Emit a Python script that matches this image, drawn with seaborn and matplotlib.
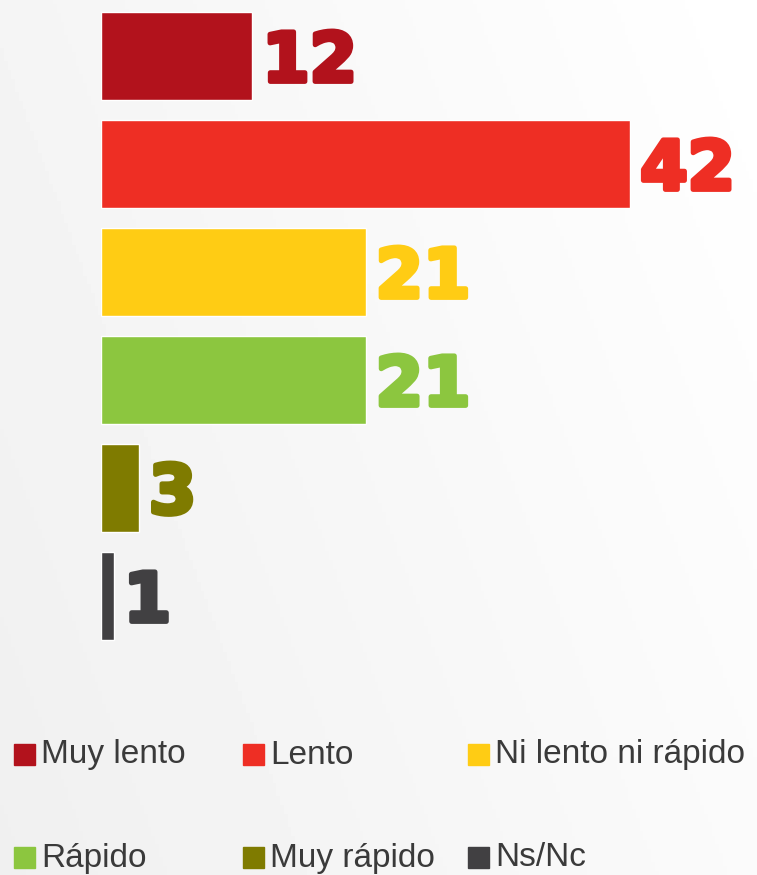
import numpy as np
import matplotlib
matplotlib.use("Agg")
import matplotlib.pyplot as plt
import matplotlib.patheffects as pe
from matplotlib.patches import Rectangle
import seaborn as sns

# --- Data ---
categories = ["Muy lento", "Lento", "Ni lento ni rápido", "Rápido", "Muy rápido", "Ns/Nc"]
values = [12, 42, 21, 21, 3, 1]
colors = ["#b2121c", "#ee2e24", "#ffcc14", "#8cc63f", "#7f7b00", "#414042"]

sns.set_style("white")
plt.rcParams["font.family"] = ["Liberation Sans", "DejaVu Sans"]

W, H = 757, 875
fig = plt.figure(figsize=(W / 100, H / 100), dpi=100)

# soft grey gradient background
bg = fig.add_axes([0, 0, 1, 1], zorder=-10)
gx, gy = np.meshgrid(np.linspace(0, 1, 200), np.linspace(0, 1, 200))
grad = 0.94 + 0.06 * np.clip(0.7 * gx + 0.3 * (1 - gy), 0, 1)
bg.imshow(grad, cmap="gray", vmin=0, vmax=1, aspect="auto", extent=[0, 1, 0, 1])
bg.axis("off")

# bar axes: 0 at x=101px, 12.6 px per unit, 108 px per row
left = 101 / W
ax = fig.add_axes([left, (H - 650) / H, 50 * 12.6 / W, 648 / H])
ax.set_facecolor("none")
sns.barplot(x=values, y=categories, hue=categories, palette=colors, orient="h",
            width=0.815, legend=False, saturation=1, ax=ax)
ax.set_xlim(0, 50)
ax.set_ylim(5.5, -0.5)
ax.axis("off")

for i, (v, c) in enumerate(zip(values, colors)):
    ax.text(v + 0.8, i + 0.06, str(v), color=c, fontsize=49, fontweight="bold",
            va="center", ha="left", family="DejaVu Sans",
            path_effects=[pe.withStroke(linewidth=3.5, foreground=c)])

# legend, two rows of three
leg_x = [14, 243, 468]
leg_y = [755, 858]
for k, (name, c) in enumerate(zip(categories, colors)):
    px = leg_x[k % 3]
    py = leg_y[k // 3]
    fig.add_artist(Rectangle((px / W, (H - py - 10) / H), 21 / W, 21 / H,
                             transform=fig.transFigure, color=c))
    fig.text((px + 27) / W, (H - py) / H, name, fontsize=24, color="#3a3a3a",
             va="center", ha="left")

fig.savefig("out.png", dpi=100)
